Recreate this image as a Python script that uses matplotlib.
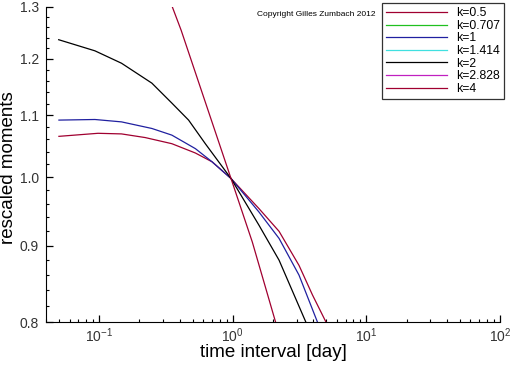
import numpy as np
import matplotlib
matplotlib.use('Agg')
import matplotlib.pyplot as plt
from matplotlib.ticker import FixedLocator, FixedFormatter, NullFormatter, LogLocator

plt.rcParams['font.family'] = ['Liberation Sans', 'DejaVu Sans']
plt.rcParams['mathtext.fontset'] = 'custom'
plt.rcParams['mathtext.rm'] = 'Liberation Sans'

# values (time interval in days, rescaled moment)
x_k05 = [0.05, 0.098, 0.147, 0.221, 0.35, 0.525, 0.70, 0.97, 1.567, 2.22, 3.13, 3.95, 4.98]
y_k05 = [1.065, 1.070, 1.069, 1.063, 1.053, 1.038, 1.024, 0.998, 0.953, 0.920, 0.873, 0.834, 0.80]

x_k1 = [0.05, 0.093, 0.147, 0.248, 0.35, 0.525, 0.70, 0.97, 1.567, 2.22, 3.13, 4.3]
y_k1 = [1.092, 1.093, 1.089, 1.078, 1.067, 1.045, 1.024, 0.998, 0.948, 0.910, 0.860, 0.80]

x_k2 = [0.0498, 0.093, 0.147, 0.248, 0.35, 0.467, 0.623, 0.97, 1.567, 2.22, 3.52]
y_k2 = [1.236, 1.215, 1.192, 1.156, 1.121, 1.092, 1.053, 0.998, 0.929, 0.880, 0.80]

x_k4 = [0.353, 0.411, 0.97, 1.40, 2.09]
y_k4 = [1.30, 1.254, 0.998, 0.905, 0.80]

labels = ['k=0.5', 'k=0.707', 'k=1', 'k=1.414', 'k=2', 'k=2.828', 'k=4']
colors = ['#a00030', '#20c020', '#2020a0', '#40e0e0', '#000000', '#c020c0', '#a00030']
series = [(x_k05, y_k05), ([], []), (x_k1, y_k1), ([], []), (x_k2, y_k2), ([], []), (x_k4, y_k4)]

yticks = [0.8, 0.9, 1.0, 1.1, 1.2, 1.3]
ytick_labels = ['0.8', '0.9', '1.0', '1.1', '1.2', '1.3']

fig = plt.figure(figsize=(5.12, 3.66), dpi=100)
ax = fig.add_axes([0.0898, 0.1202, 0.8868, 0.8608])

handles = []
for (xs, ys), lab, c in zip(series, labels, colors):
    h, = ax.plot(xs, ys, color=c, lw=0.9, label=lab)
    handles.append(h)

ax.set_xscale('log')
ax.set_yscale('log')
ax.set_xlim(0.04, 100)
ax.set_ylim(0.8, 1.3)

ax.yaxis.set_major_locator(FixedLocator(yticks))
ax.yaxis.set_major_formatter(FixedFormatter(ytick_labels))
ax.yaxis.set_minor_locator(FixedLocator(np.arange(0.8, 1.3, 0.02)))
ax.yaxis.set_minor_formatter(NullFormatter())
ax.xaxis.set_major_locator(LogLocator(base=10, numticks=10))
ax.xaxis.set_minor_locator(LogLocator(base=10, subs=np.arange(2, 10), numticks=20))
ax.xaxis.set_minor_formatter(NullFormatter())

ax.spines['top'].set_visible(False)
ax.spines['right'].set_visible(False)
ax.tick_params(which='major', direction='in', length=5, width=0.9, labelsize=10,
               labelcolor='#333333')
ax.tick_params(axis='x', which='major', pad=3)
ax.tick_params(axis='y', which='major', pad=5)
ax.tick_params(which='minor', direction='in', length=2.5, width=0.8)

ax.set_xlabel('time interval [day]', fontsize=13.5)
ax.set_ylabel('rescaled moments', fontsize=13.5)
ax.xaxis.set_label_coords(0.5, -0.07)
ax.yaxis.set_label_coords(-0.064, 0.49)

ax.text(0.465, 0.975, 'Copyright Gilles Zumbach 2012', transform=ax.transAxes,
        fontsize=6, ha='left', va='center')

leg = ax.legend(handles=handles, loc='upper right', bbox_to_anchor=(1.009, 1.0127),
                fontsize=8.8, frameon=True, fancybox=False, handlelength=5.0,
                handletextpad=0.7, labelspacing=0.05, borderpad=0.35,
                borderaxespad=0.0)
leg.get_frame().set_edgecolor('black')
leg.get_frame().set_linewidth(0.9)

fig.savefig('out.png', dpi=100)
